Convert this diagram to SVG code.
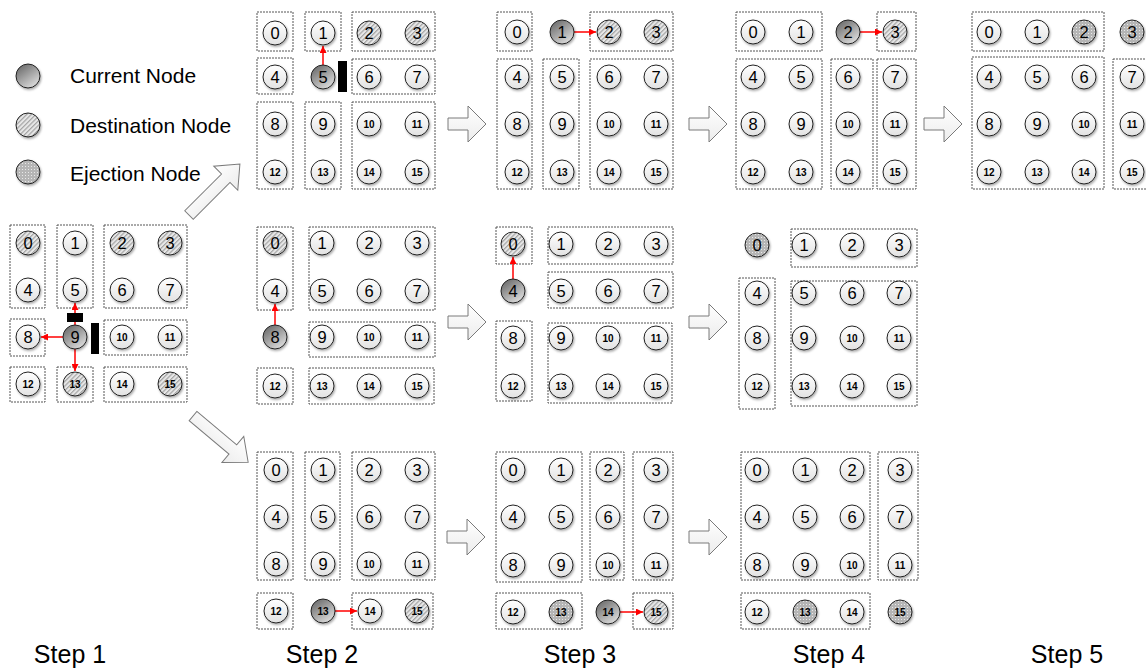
<svg xmlns="http://www.w3.org/2000/svg" width="1146" height="670" viewBox="0 0 1146 670">
<defs>
<linearGradient id="gN" x1="0" y1="0" x2="0" y2="1"><stop offset="0" stop-color="#ffffff"/><stop offset="1" stop-color="#e2e2e2"/></linearGradient>
<linearGradient id="gC" x1="0" y1="0" x2="0.7" y2="1"><stop offset="0" stop-color="#5e5e5e"/><stop offset="1" stop-color="#dcdcdc"/></linearGradient>
<linearGradient id="gA" x1="0" y1="0" x2="0" y2="1"><stop offset="0" stop-color="#ffffff"/><stop offset="1" stop-color="#ececec"/></linearGradient>
<pattern id="pD" width="3.2" height="3.2" patternUnits="userSpaceOnUse" patternTransform="rotate(45)"><rect width="3.2" height="3.2" fill="#e8e8e8"/><rect width="1.2" height="3.2" fill="#a4a4a4"/></pattern>
<pattern id="pE" width="3" height="3" patternUnits="userSpaceOnUse"><rect width="3" height="3" fill="#b5b5b5"/><rect x="1" y="1" width="1" height="1" fill="#e8e8e8"/></pattern>
<filter id="sh" x="-30%" y="-30%" width="170%" height="170%"><feDropShadow dx="1" dy="1.5" stdDeviation="0.8" flood-color="#000" flood-opacity="0.35"/></filter>
<marker id="ah" markerWidth="7" markerHeight="7" refX="7" refY="3.5" orient="auto" markerUnits="userSpaceOnUse"><path d="M0,0 L7,3.5 L0,7 Z" fill="#ff0000"/></marker>
<path id="barr" d="M0,-6 L20,-6 L20,-18 L38,0 L20,18 L20,6 L0,6 Z"/>
<path id="darr" d="M0,-6 L52,-6 L52,-17 L72,0 L52,17 L52,6 L0,6 Z"/>
</defs>
<style>
.box{fill:none;stroke:#555;stroke-width:1;stroke-dasharray:2 1}
.n circle,.c circle,.d circle,.e circle{stroke:#222;stroke-width:1;filter:url(#sh)}
.n circle{fill:url(#gN)}
.c circle{fill:url(#gC)}
.d circle{fill:url(#pD)}
.e circle{fill:url(#pE)}
text{font-family:"Liberation Sans",Arial,sans-serif;fill:#000}
.t1{font-size:16.5px;text-anchor:middle}
.t2{font-size:10px;font-weight:bold;text-anchor:middle}
.lg{font-size:21px}
.st{font-size:25px;text-anchor:middle}
.blk{fill:#000}
.ba{fill:url(#gA);stroke:#7a7a7a;stroke-width:1}
.ra{stroke:#ff0000;stroke-width:1.5;fill:none;marker-end:url(#ah)}
</style>
<rect width="1146" height="670" fill="#ffffff"/>

<!-- Legend -->
<g id="legend">
<g class="c"><circle cx="28" cy="76" r="12"/></g>
<text class="lg" x="70" y="83">Current Node</text>
<g class="d"><circle cx="28" cy="125" r="12"/></g>
<text class="lg" x="70" y="133">Destination Node</text>
<g class="e"><circle cx="28" cy="172" r="12"/></g>
<text class="lg" x="70" y="181">Ejection Node</text>
</g>

<!-- Block arrows -->
<g id="block-arrows">
<use href="#darr" class="ba" transform="translate(189,215) rotate(-45)"/>
<use href="#darr" class="ba" transform="translate(193,416) rotate(40)"/>
<use href="#barr" class="ba" transform="translate(448,124)"/>
<use href="#barr" class="ba" transform="translate(689,124)"/>
<use href="#barr" class="ba" transform="translate(924,124)"/>
<use href="#barr" class="ba" transform="translate(448,322)"/>
<use href="#barr" class="ba" transform="translate(689,322)"/>
<use href="#barr" class="ba" transform="translate(447,537)"/>
<use href="#barr" class="ba" transform="translate(689,537)"/>
</g>

<!-- Boxes (dashed groupings) -->
<g id="boxes">
<rect class="box" x="10" y="225" width="35" height="83"/>
<rect class="box" x="57" y="225" width="36" height="83"/>
<rect class="box" x="104" y="225" width="83" height="83"/>
<rect class="box" x="10" y="319" width="35" height="37"/>
<rect class="box" x="104" y="320" width="83" height="35"/>
<rect class="box" x="10" y="367" width="35" height="35"/>
<rect class="box" x="57" y="367" width="36" height="35"/>
<rect class="box" x="104" y="367" width="83" height="35"/>

<rect class="box" x="257" y="12" width="36" height="39"/>
<rect class="box" x="305" y="12" width="36" height="39"/>
<rect class="box" x="352" y="12" width="83" height="39"/>
<rect class="box" x="257" y="58" width="36" height="36"/>
<rect class="box" x="352" y="59" width="83" height="35"/>
<rect class="box" x="257" y="102" width="36" height="87"/>
<rect class="box" x="305" y="102" width="36" height="87"/>
<rect class="box" x="352" y="102" width="83" height="87"/>

<rect class="box" x="497" y="12" width="35" height="39"/>
<rect class="box" x="590" y="12" width="83" height="39"/>
<rect class="box" x="497" y="59" width="35" height="130"/>
<rect class="box" x="543" y="59" width="36" height="130"/>
<rect class="box" x="590" y="59" width="83" height="130"/>

<rect class="box" x="736" y="12" width="86" height="39"/>
<rect class="box" x="877" y="12" width="39" height="39"/>
<rect class="box" x="736" y="59" width="86" height="130"/>
<rect class="box" x="831" y="59" width="42" height="130"/>
<rect class="box" x="877" y="59" width="39" height="130"/>

<rect class="box" x="972" y="12" width="132" height="39"/>
<rect class="box" x="972" y="57" width="132" height="132"/>
<rect class="box" x="1113" y="59" width="40" height="130"/>

<rect class="box" x="257" y="227" width="36" height="83"/>
<rect class="box" x="309" y="227" width="126" height="83"/>
<rect class="box" x="309" y="322" width="126" height="35"/>
<rect class="box" x="257" y="368" width="36" height="36"/>
<rect class="box" x="309" y="368" width="125" height="36"/>

<rect class="box" x="496" y="227" width="36" height="37"/>
<rect class="box" x="548" y="227" width="125" height="37"/>
<rect class="box" x="548" y="272" width="125" height="36"/>
<rect class="box" x="496" y="321" width="36" height="80"/>
<rect class="box" x="548" y="323" width="124" height="80"/>

<rect class="box" x="791" y="229" width="126" height="38"/>
<rect class="box" x="739" y="278" width="36" height="131"/>
<rect class="box" x="791" y="281" width="126" height="125"/>

<rect class="box" x="257" y="452" width="36" height="128"/>
<rect class="box" x="305" y="452" width="35" height="128"/>
<rect class="box" x="352" y="452" width="83" height="128"/>
<rect class="box" x="257" y="593" width="36" height="36"/>
<rect class="box" x="352" y="593" width="81" height="36"/>

<rect class="box" x="496" y="452" width="86" height="130"/>
<rect class="box" x="590" y="452" width="34" height="128"/>
<rect class="box" x="633" y="452" width="40" height="128"/>
<rect class="box" x="496" y="593" width="86" height="36"/>
<rect class="box" x="633" y="593" width="40" height="36"/>

<rect class="box" x="741" y="452" width="129" height="128"/>
<rect class="box" x="878" y="452" width="40" height="128"/>
<rect class="box" x="741" y="593" width="129" height="36"/>
</g>

<!-- Connectors -->
<g id="connectors">
<line class="ra" x1="75" y1="325" x2="75" y2="303"/>
<line class="ra" x1="63" y1="337" x2="41" y2="337"/>
<line class="ra" x1="75" y1="349" x2="75" y2="371"/>
<line class="ra" x1="323" y1="65" x2="323" y2="46"/>
<line class="ra" x1="574" y1="32" x2="596" y2="32"/>
<line class="ra" x1="860" y1="32" x2="882" y2="32"/>
<line class="ra" x1="275" y1="325" x2="275" y2="304"/>
<line class="ra" x1="513" y1="279" x2="513" y2="257"/>
<line class="ra" x1="335" y1="611" x2="357" y2="611"/>
<line class="ra" x1="620" y1="612" x2="643" y2="612"/>
</g>

<!-- Step 1 -->
<g id="s1-n0" class="d" transform="translate(28,243)"><circle r="12"/><text class="t1" y="6">0</text></g>
<g id="s1-n1" class="n" transform="translate(75,243)"><circle r="12"/><text class="t1" y="6">1</text></g>
<g id="s1-n2" class="d" transform="translate(122,243)"><circle r="12"/><text class="t1" y="6">2</text></g>
<g id="s1-n3" class="d" transform="translate(170,243)"><circle r="12"/><text class="t1" y="6">3</text></g>
<g id="s1-n4" class="n" transform="translate(28,290)"><circle r="12"/><text class="t1" y="6">4</text></g>
<g id="s1-n5" class="n" transform="translate(75,290)"><circle r="12"/><text class="t1" y="6">5</text></g>
<g id="s1-n6" class="n" transform="translate(122,290)"><circle r="12"/><text class="t1" y="6">6</text></g>
<g id="s1-n7" class="n" transform="translate(170,290)"><circle r="12"/><text class="t1" y="6">7</text></g>
<g id="s1-n8" class="n" transform="translate(28,337)"><circle r="12"/><text class="t1" y="6">8</text></g>
<g id="s1-n9" class="c" transform="translate(75,337)"><circle r="12"/><text class="t1" y="6">9</text></g>
<g id="s1-n10" class="n" transform="translate(122,337)"><circle r="12"/><text class="t2" y="3.5">10</text></g>
<g id="s1-n11" class="n" transform="translate(170,337)"><circle r="12"/><text class="t2" y="3.5">11</text></g>
<g id="s1-n12" class="n" transform="translate(28,384)"><circle r="12"/><text class="t2" y="3.5">12</text></g>
<g id="s1-n13" class="d" transform="translate(75,384)"><circle r="12"/><text class="t2" y="3.5">13</text></g>
<g id="s1-n14" class="n" transform="translate(122,384)"><circle r="12"/><text class="t2" y="3.5">14</text></g>
<g id="s1-n15" class="d" transform="translate(170,384)"><circle r="12"/><text class="t2" y="3.5">15</text></g>
<g id="s1-blocks"><rect class="blk" x="67" y="313" width="16" height="9"/><rect class="blk" x="91" y="323" width="8" height="31"/></g>

<!-- Step 2 top -->
<g id="s2a-n0" class="n" transform="translate(275,33)"><circle r="12"/><text class="t1" y="6">0</text></g>
<g id="s2a-n1" class="n" transform="translate(323,33)"><circle r="12"/><text class="t1" y="6">1</text></g>
<g id="s2a-n2" class="d" transform="translate(369,33)"><circle r="12"/><text class="t1" y="6">2</text></g>
<g id="s2a-n3" class="d" transform="translate(417,33)"><circle r="12"/><text class="t1" y="6">3</text></g>
<g id="s2a-n4" class="n" transform="translate(275,77)"><circle r="12"/><text class="t1" y="6">4</text></g>
<g id="s2a-n5" class="c" transform="translate(323,77)"><circle r="12"/><text class="t1" y="6">5</text></g>
<g id="s2a-n6" class="n" transform="translate(369,77)"><circle r="12"/><text class="t1" y="6">6</text></g>
<g id="s2a-n7" class="n" transform="translate(417,77)"><circle r="12"/><text class="t1" y="6">7</text></g>
<g id="s2a-n8" class="n" transform="translate(275,124)"><circle r="12"/><text class="t1" y="6">8</text></g>
<g id="s2a-n9" class="n" transform="translate(323,124)"><circle r="12"/><text class="t1" y="6">9</text></g>
<g id="s2a-n10" class="n" transform="translate(369,124)"><circle r="12"/><text class="t2" y="3.5">10</text></g>
<g id="s2a-n11" class="n" transform="translate(417,124)"><circle r="12"/><text class="t2" y="3.5">11</text></g>
<g id="s2a-n12" class="n" transform="translate(275,172)"><circle r="12"/><text class="t2" y="3.5">12</text></g>
<g id="s2a-n13" class="n" transform="translate(323,172)"><circle r="12"/><text class="t2" y="3.5">13</text></g>
<g id="s2a-n14" class="n" transform="translate(369,172)"><circle r="12"/><text class="t2" y="3.5">14</text></g>
<g id="s2a-n15" class="n" transform="translate(417,172)"><circle r="12"/><text class="t2" y="3.5">15</text></g>
<g id="s2a-block"><rect class="blk" x="338" y="61" width="9" height="31"/></g>

<!-- Step 3 top -->
<g id="s3a-n0" class="n" transform="translate(517,32)"><circle r="12"/><text class="t1" y="6">0</text></g>
<g id="s3a-n1" class="c" transform="translate(562,32)"><circle r="12"/><text class="t1" y="6">1</text></g>
<g id="s3a-n2" class="d" transform="translate(609,32)"><circle r="12"/><text class="t1" y="6">2</text></g>
<g id="s3a-n3" class="d" transform="translate(656,32)"><circle r="12"/><text class="t1" y="6">3</text></g>
<g id="s3a-n4" class="n" transform="translate(517,77)"><circle r="12"/><text class="t1" y="6">4</text></g>
<g id="s3a-n5" class="n" transform="translate(562,77)"><circle r="12"/><text class="t1" y="6">5</text></g>
<g id="s3a-n6" class="n" transform="translate(609,77)"><circle r="12"/><text class="t1" y="6">6</text></g>
<g id="s3a-n7" class="n" transform="translate(656,77)"><circle r="12"/><text class="t1" y="6">7</text></g>
<g id="s3a-n8" class="n" transform="translate(517,124)"><circle r="12"/><text class="t1" y="6">8</text></g>
<g id="s3a-n9" class="n" transform="translate(562,124)"><circle r="12"/><text class="t1" y="6">9</text></g>
<g id="s3a-n10" class="n" transform="translate(609,124)"><circle r="12"/><text class="t2" y="3.5">10</text></g>
<g id="s3a-n11" class="n" transform="translate(656,124)"><circle r="12"/><text class="t2" y="3.5">11</text></g>
<g id="s3a-n12" class="n" transform="translate(517,172)"><circle r="12"/><text class="t2" y="3.5">12</text></g>
<g id="s3a-n13" class="n" transform="translate(562,172)"><circle r="12"/><text class="t2" y="3.5">13</text></g>
<g id="s3a-n14" class="n" transform="translate(609,172)"><circle r="12"/><text class="t2" y="3.5">14</text></g>
<g id="s3a-n15" class="n" transform="translate(656,172)"><circle r="12"/><text class="t2" y="3.5">15</text></g>

<!-- Step 4 top -->
<g id="s4a-n0" class="n" transform="translate(753,32)"><circle r="12"/><text class="t1" y="6">0</text></g>
<g id="s4a-n1" class="n" transform="translate(801,32)"><circle r="12"/><text class="t1" y="6">1</text></g>
<g id="s4a-n2" class="c" transform="translate(848,32)"><circle r="12"/><text class="t1" y="6">2</text></g>
<g id="s4a-n3" class="d" transform="translate(895,32)"><circle r="12"/><text class="t1" y="6">3</text></g>
<g id="s4a-n4" class="n" transform="translate(753,77)"><circle r="12"/><text class="t1" y="6">4</text></g>
<g id="s4a-n5" class="n" transform="translate(801,77)"><circle r="12"/><text class="t1" y="6">5</text></g>
<g id="s4a-n6" class="n" transform="translate(848,77)"><circle r="12"/><text class="t1" y="6">6</text></g>
<g id="s4a-n7" class="n" transform="translate(895,77)"><circle r="12"/><text class="t1" y="6">7</text></g>
<g id="s4a-n8" class="n" transform="translate(753,124)"><circle r="12"/><text class="t1" y="6">8</text></g>
<g id="s4a-n9" class="n" transform="translate(801,124)"><circle r="12"/><text class="t1" y="6">9</text></g>
<g id="s4a-n10" class="n" transform="translate(848,124)"><circle r="12"/><text class="t2" y="3.5">10</text></g>
<g id="s4a-n11" class="n" transform="translate(895,124)"><circle r="12"/><text class="t2" y="3.5">11</text></g>
<g id="s4a-n12" class="n" transform="translate(753,172)"><circle r="12"/><text class="t2" y="3.5">12</text></g>
<g id="s4a-n13" class="n" transform="translate(801,172)"><circle r="12"/><text class="t2" y="3.5">13</text></g>
<g id="s4a-n14" class="n" transform="translate(848,172)"><circle r="12"/><text class="t2" y="3.5">14</text></g>
<g id="s4a-n15" class="n" transform="translate(895,172)"><circle r="12"/><text class="t2" y="3.5">15</text></g>

<!-- Step 5 top -->
<g id="s5-n0" class="n" transform="translate(989,32)"><circle r="12"/><text class="t1" y="6">0</text></g>
<g id="s5-n1" class="n" transform="translate(1037,32)"><circle r="12"/><text class="t1" y="6">1</text></g>
<g id="s5-n2" class="e" transform="translate(1084,32)"><circle r="12"/><text class="t1" y="6">2</text></g>
<g id="s5-n3" class="e" transform="translate(1132,32)"><circle r="12"/><text class="t1" y="6">3</text></g>
<g id="s5-n4" class="n" transform="translate(989,77)"><circle r="12"/><text class="t1" y="6">4</text></g>
<g id="s5-n5" class="n" transform="translate(1037,77)"><circle r="12"/><text class="t1" y="6">5</text></g>
<g id="s5-n6" class="n" transform="translate(1084,77)"><circle r="12"/><text class="t1" y="6">6</text></g>
<g id="s5-n7" class="n" transform="translate(1132,77)"><circle r="12"/><text class="t1" y="6">7</text></g>
<g id="s5-n8" class="n" transform="translate(989,124)"><circle r="12"/><text class="t1" y="6">8</text></g>
<g id="s5-n9" class="n" transform="translate(1037,124)"><circle r="12"/><text class="t1" y="6">9</text></g>
<g id="s5-n10" class="n" transform="translate(1084,124)"><circle r="12"/><text class="t2" y="3.5">10</text></g>
<g id="s5-n11" class="n" transform="translate(1132,124)"><circle r="12"/><text class="t2" y="3.5">11</text></g>
<g id="s5-n12" class="n" transform="translate(989,172)"><circle r="12"/><text class="t2" y="3.5">12</text></g>
<g id="s5-n13" class="n" transform="translate(1037,172)"><circle r="12"/><text class="t2" y="3.5">13</text></g>
<g id="s5-n14" class="n" transform="translate(1084,172)"><circle r="12"/><text class="t2" y="3.5">14</text></g>
<g id="s5-n15" class="n" transform="translate(1132,172)"><circle r="12"/><text class="t2" y="3.5">15</text></g>

<!-- Step 2 middle -->
<g id="s2b-n0" class="d" transform="translate(275,243)"><circle r="12"/><text class="t1" y="6">0</text></g>
<g id="s2b-n1" class="n" transform="translate(322,243)"><circle r="12"/><text class="t1" y="6">1</text></g>
<g id="s2b-n2" class="n" transform="translate(369,243)"><circle r="12"/><text class="t1" y="6">2</text></g>
<g id="s2b-n3" class="n" transform="translate(417,243)"><circle r="12"/><text class="t1" y="6">3</text></g>
<g id="s2b-n4" class="n" transform="translate(275,291)"><circle r="12"/><text class="t1" y="6">4</text></g>
<g id="s2b-n5" class="n" transform="translate(322,291)"><circle r="12"/><text class="t1" y="6">5</text></g>
<g id="s2b-n6" class="n" transform="translate(369,291)"><circle r="12"/><text class="t1" y="6">6</text></g>
<g id="s2b-n7" class="n" transform="translate(417,291)"><circle r="12"/><text class="t1" y="6">7</text></g>
<g id="s2b-n8" class="c" transform="translate(275,337)"><circle r="12"/><text class="t1" y="6">8</text></g>
<g id="s2b-n9" class="n" transform="translate(322,337)"><circle r="12"/><text class="t1" y="6">9</text></g>
<g id="s2b-n10" class="n" transform="translate(369,337)"><circle r="12"/><text class="t2" y="3.5">10</text></g>
<g id="s2b-n11" class="n" transform="translate(417,337)"><circle r="12"/><text class="t2" y="3.5">11</text></g>
<g id="s2b-n12" class="n" transform="translate(275,386)"><circle r="12"/><text class="t2" y="3.5">12</text></g>
<g id="s2b-n13" class="n" transform="translate(322,386)"><circle r="12"/><text class="t2" y="3.5">13</text></g>
<g id="s2b-n14" class="n" transform="translate(369,386)"><circle r="12"/><text class="t2" y="3.5">14</text></g>
<g id="s2b-n15" class="n" transform="translate(417,386)"><circle r="12"/><text class="t2" y="3.5">15</text></g>

<!-- Step 3 middle -->
<g id="s3b-n0" class="d" transform="translate(513,244)"><circle r="12"/><text class="t1" y="6">0</text></g>
<g id="s3b-n1" class="n" transform="translate(561,244)"><circle r="12"/><text class="t1" y="6">1</text></g>
<g id="s3b-n2" class="n" transform="translate(608,244)"><circle r="12"/><text class="t1" y="6">2</text></g>
<g id="s3b-n3" class="n" transform="translate(656,244)"><circle r="12"/><text class="t1" y="6">3</text></g>
<g id="s3b-n4" class="c" transform="translate(513,291)"><circle r="12"/><text class="t1" y="6">4</text></g>
<g id="s3b-n5" class="n" transform="translate(561,291)"><circle r="12"/><text class="t1" y="6">5</text></g>
<g id="s3b-n6" class="n" transform="translate(608,291)"><circle r="12"/><text class="t1" y="6">6</text></g>
<g id="s3b-n7" class="n" transform="translate(656,291)"><circle r="12"/><text class="t1" y="6">7</text></g>
<g id="s3b-n8" class="n" transform="translate(513,338)"><circle r="12"/><text class="t1" y="6">8</text></g>
<g id="s3b-n9" class="n" transform="translate(561,338)"><circle r="12"/><text class="t1" y="6">9</text></g>
<g id="s3b-n10" class="n" transform="translate(608,338)"><circle r="12"/><text class="t2" y="3.5">10</text></g>
<g id="s3b-n11" class="n" transform="translate(656,338)"><circle r="12"/><text class="t2" y="3.5">11</text></g>
<g id="s3b-n12" class="n" transform="translate(513,386)"><circle r="12"/><text class="t2" y="3.5">12</text></g>
<g id="s3b-n13" class="n" transform="translate(561,386)"><circle r="12"/><text class="t2" y="3.5">13</text></g>
<g id="s3b-n14" class="n" transform="translate(608,386)"><circle r="12"/><text class="t2" y="3.5">14</text></g>
<g id="s3b-n15" class="n" transform="translate(656,386)"><circle r="12"/><text class="t2" y="3.5">15</text></g>

<!-- Step 4 middle -->
<g id="s4b-n0" class="e" transform="translate(757,245)"><circle r="12"/><text class="t1" y="6">0</text></g>
<g id="s4b-n1" class="n" transform="translate(804,245)"><circle r="12"/><text class="t1" y="6">1</text></g>
<g id="s4b-n2" class="n" transform="translate(852,245)"><circle r="12"/><text class="t1" y="6">2</text></g>
<g id="s4b-n3" class="n" transform="translate(899,245)"><circle r="12"/><text class="t1" y="6">3</text></g>
<g id="s4b-n4" class="n" transform="translate(757,293)"><circle r="12"/><text class="t1" y="6">4</text></g>
<g id="s4b-n5" class="n" transform="translate(804,293)"><circle r="12"/><text class="t1" y="6">5</text></g>
<g id="s4b-n6" class="n" transform="translate(852,293)"><circle r="12"/><text class="t1" y="6">6</text></g>
<g id="s4b-n7" class="n" transform="translate(899,293)"><circle r="12"/><text class="t1" y="6">7</text></g>
<g id="s4b-n8" class="n" transform="translate(757,338)"><circle r="12"/><text class="t1" y="6">8</text></g>
<g id="s4b-n9" class="n" transform="translate(804,338)"><circle r="12"/><text class="t1" y="6">9</text></g>
<g id="s4b-n10" class="n" transform="translate(852,338)"><circle r="12"/><text class="t2" y="3.5">10</text></g>
<g id="s4b-n11" class="n" transform="translate(899,338)"><circle r="12"/><text class="t2" y="3.5">11</text></g>
<g id="s4b-n12" class="n" transform="translate(757,386)"><circle r="12"/><text class="t2" y="3.5">12</text></g>
<g id="s4b-n13" class="n" transform="translate(804,386)"><circle r="12"/><text class="t2" y="3.5">13</text></g>
<g id="s4b-n14" class="n" transform="translate(852,386)"><circle r="12"/><text class="t2" y="3.5">14</text></g>
<g id="s4b-n15" class="n" transform="translate(899,386)"><circle r="12"/><text class="t2" y="3.5">15</text></g>

<!-- Step 2 bottom -->
<g id="s2c-n0" class="n" transform="translate(276,470)"><circle r="12"/><text class="t1" y="6">0</text></g>
<g id="s2c-n1" class="n" transform="translate(323,470)"><circle r="12"/><text class="t1" y="6">1</text></g>
<g id="s2c-n2" class="n" transform="translate(369,470)"><circle r="12"/><text class="t1" y="6">2</text></g>
<g id="s2c-n3" class="n" transform="translate(417,470)"><circle r="12"/><text class="t1" y="6">3</text></g>
<g id="s2c-n4" class="n" transform="translate(276,517)"><circle r="12"/><text class="t1" y="6">4</text></g>
<g id="s2c-n5" class="n" transform="translate(323,517)"><circle r="12"/><text class="t1" y="6">5</text></g>
<g id="s2c-n6" class="n" transform="translate(369,517)"><circle r="12"/><text class="t1" y="6">6</text></g>
<g id="s2c-n7" class="n" transform="translate(417,517)"><circle r="12"/><text class="t1" y="6">7</text></g>
<g id="s2c-n8" class="n" transform="translate(276,564)"><circle r="12"/><text class="t1" y="6">8</text></g>
<g id="s2c-n9" class="n" transform="translate(323,564)"><circle r="12"/><text class="t1" y="6">9</text></g>
<g id="s2c-n10" class="n" transform="translate(369,564)"><circle r="12"/><text class="t2" y="3.5">10</text></g>
<g id="s2c-n11" class="n" transform="translate(417,564)"><circle r="12"/><text class="t2" y="3.5">11</text></g>
<g id="s2c-n12" class="n" transform="translate(276,611)"><circle r="12"/><text class="t2" y="3.5">12</text></g>
<g id="s2c-n13" class="c" transform="translate(323,611)"><circle r="12"/><text class="t2" y="3.5">13</text></g>
<g id="s2c-n14" class="n" transform="translate(370,611)"><circle r="12"/><text class="t2" y="3.5">14</text></g>
<g id="s2c-n15" class="d" transform="translate(417,611)"><circle r="12"/><text class="t2" y="3.5">15</text></g>

<!-- Step 3 bottom -->
<g id="s3c-n0" class="n" transform="translate(513,470)"><circle r="12"/><text class="t1" y="6">0</text></g>
<g id="s3c-n1" class="n" transform="translate(561,470)"><circle r="12"/><text class="t1" y="6">1</text></g>
<g id="s3c-n2" class="n" transform="translate(608,470)"><circle r="12"/><text class="t1" y="6">2</text></g>
<g id="s3c-n3" class="n" transform="translate(656,470)"><circle r="12"/><text class="t1" y="6">3</text></g>
<g id="s3c-n4" class="n" transform="translate(513,517)"><circle r="12"/><text class="t1" y="6">4</text></g>
<g id="s3c-n5" class="n" transform="translate(561,517)"><circle r="12"/><text class="t1" y="6">5</text></g>
<g id="s3c-n6" class="n" transform="translate(608,517)"><circle r="12"/><text class="t1" y="6">6</text></g>
<g id="s3c-n7" class="n" transform="translate(656,517)"><circle r="12"/><text class="t1" y="6">7</text></g>
<g id="s3c-n8" class="n" transform="translate(513,565)"><circle r="12"/><text class="t1" y="6">8</text></g>
<g id="s3c-n9" class="n" transform="translate(561,565)"><circle r="12"/><text class="t1" y="6">9</text></g>
<g id="s3c-n10" class="n" transform="translate(608,565)"><circle r="12"/><text class="t2" y="3.5">10</text></g>
<g id="s3c-n11" class="n" transform="translate(656,565)"><circle r="12"/><text class="t2" y="3.5">11</text></g>
<g id="s3c-n12" class="n" transform="translate(513,612)"><circle r="12"/><text class="t2" y="3.5">12</text></g>
<g id="s3c-n13" class="e" transform="translate(561,612)"><circle r="12"/><text class="t2" y="3.5">13</text></g>
<g id="s3c-n14" class="c" transform="translate(608,612)"><circle r="12"/><text class="t2" y="3.5">14</text></g>
<g id="s3c-n15" class="d" transform="translate(656,612)"><circle r="12"/><text class="t2" y="3.5">15</text></g>

<!-- Step 4 bottom -->
<g id="s4c-n0" class="n" transform="translate(757,470)"><circle r="12"/><text class="t1" y="6">0</text></g>
<g id="s4c-n1" class="n" transform="translate(805,470)"><circle r="12"/><text class="t1" y="6">1</text></g>
<g id="s4c-n2" class="n" transform="translate(852,470)"><circle r="12"/><text class="t1" y="6">2</text></g>
<g id="s4c-n3" class="n" transform="translate(900,470)"><circle r="12"/><text class="t1" y="6">3</text></g>
<g id="s4c-n4" class="n" transform="translate(757,517)"><circle r="12"/><text class="t1" y="6">4</text></g>
<g id="s4c-n5" class="n" transform="translate(805,517)"><circle r="12"/><text class="t1" y="6">5</text></g>
<g id="s4c-n6" class="n" transform="translate(852,517)"><circle r="12"/><text class="t1" y="6">6</text></g>
<g id="s4c-n7" class="n" transform="translate(900,517)"><circle r="12"/><text class="t1" y="6">7</text></g>
<g id="s4c-n8" class="n" transform="translate(757,565)"><circle r="12"/><text class="t1" y="6">8</text></g>
<g id="s4c-n9" class="n" transform="translate(805,565)"><circle r="12"/><text class="t1" y="6">9</text></g>
<g id="s4c-n10" class="n" transform="translate(852,565)"><circle r="12"/><text class="t2" y="3.5">10</text></g>
<g id="s4c-n11" class="n" transform="translate(900,565)"><circle r="12"/><text class="t2" y="3.5">11</text></g>
<g id="s4c-n12" class="n" transform="translate(757,612)"><circle r="12"/><text class="t2" y="3.5">12</text></g>
<g id="s4c-n13" class="e" transform="translate(805,612)"><circle r="12"/><text class="t2" y="3.5">13</text></g>
<g id="s4c-n14" class="n" transform="translate(852,612)"><circle r="12"/><text class="t2" y="3.5">14</text></g>
<g id="s4c-n15" class="e" transform="translate(900,612)"><circle r="12"/><text class="t2" y="3.5">15</text></g>

<!-- Step labels -->
<g id="step-labels">
<text class="st" x="70" y="663">Step 1</text>
<text class="st" x="322" y="663">Step 2</text>
<text class="st" x="580" y="663">Step 3</text>
<text class="st" x="829" y="663">Step 4</text>
<text class="st" x="1067" y="663">Step 5</text>
</g>
</svg>
